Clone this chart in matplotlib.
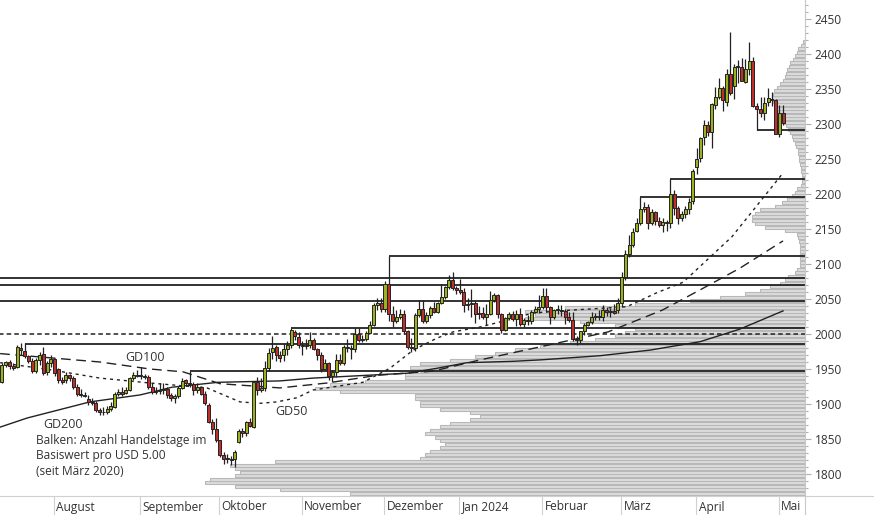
import numpy as np
import pandas as pd
import matplotlib
matplotlib.use("Agg")
import matplotlib.pyplot as plt
from matplotlib.transforms import blended_transform_factory

plt.rcParams['font.family'] = ['Open Sans', 'DejaVu Sans']

# trading days shown (holidays without quotes removed)
dates = pd.bdate_range("2023-07-12", "2024-05-02")
dates = dates.drop(pd.to_datetime(["2023-12-25", "2024-01-01", "2024-03-29"]))

opens = [1932, 1956, 1960, 1955, 1953, 1980, 1976, 1969, 1961, 1947, 1963, 1972, 1946, 1958,
         1964, 1950, 1935, 1934, 1941, 1937, 1925, 1913, 1913, 1907, 1903, 1901, 1891, 1888, 1889, 1893,
         1896, 1915, 1917, 1916, 1920, 1937, 1942,
         1940, 1940, 1938, 1925, 1917, 1919, 1920, 1922, 1913, 1909, 1911, 1923, 1934, 1930, 1929, 1920,
         1924, 1915, 1899, 1874, 1864,
         1848, 1827, 1822, 1822, 1821, 1846, 1861, 1858, 1874, 1867, 1931, 1920, 1923, 1951, 1974, 1981,
         1970, 1970, 1979, 1984, 2003, 1996,
         1984, 1983, 1985, 1992, 1978, 1970, 1950, 1958, 1940, 1946, 1963, 1959, 1981, 1980, 1978, 2000,
         1991, 1993, 2002, 2013, 2041, 2044,
         2036, 2072, 2029, 2019, 2025, 2028, 2004, 1981, 1980, 2027, 2036, 2019, 2027, 2037, 2031, 2045,
         2053, 2067, 2077, 2065,
         2063, 2060, 2041, 2043, 2045, 2028, 2030, 2025, 2029, 2049, 2055, 2028, 2006, 2023, 2029, 2022,
         2028, 2014, 2020, 2018, 2031, 2036,
         2039, 2054, 2039, 2025, 2034, 2035, 2033, 2024, 2020, 1993, 1992, 2004, 2013, 2017, 2024, 2025,
         2024, 2035, 2031, 2033, 2034,
         2044, 2082, 2114, 2127, 2147, 2159, 2179, 2182, 2158, 2174, 2162, 2156, 2160, 2158, 2200, 2180,
         2165, 2171, 2178, 2190,
         2239, 2251, 2281, 2298, 2289, 2327, 2338, 2351, 2331, 2371, 2354, 2381, 2381, 2360, 2378, 2390,
         2326, 2322, 2316, 2331, 2334, 2334,
         2286, 2316]
highs = [1959, 1962, 1963, 1958, 1984, 1987, 1987, 1970, 1966, 1966, 1975, 1982, 1961, 1970,
         1966, 1952, 1938, 1946, 1943, 1940, 1929, 1922, 1917, 1913, 1908, 1904, 1894, 1896, 1897, 1903,
         1917, 1922, 1925, 1924, 1939, 1946, 1948,
         1953, 1943, 1941, 1930, 1924, 1930, 1930, 1925, 1916, 1915, 1926, 1937, 1936, 1947, 1932, 1930,
         1926, 1918, 1902, 1879, 1880,
         1849, 1831, 1829, 1826, 1834, 1865, 1866, 1876, 1880, 1933, 1938, 1937, 1962, 1980, 1997, 1985,
         1976, 1986, 1990, 2008, 2006, 2003,
         1990, 1993, 2003, 1994, 1980, 1974, 1965, 1960, 1948, 1971, 1972, 1985, 1993, 1985, 2008, 2008,
         1998, 2004, 2018, 2044, 2052, 2051,
         2075, 2111, 2040, 2035, 2036, 2035, 2006, 1994, 2030, 2048, 2048, 2032, 2040, 2046, 2046, 2071,
         2068, 2084, 2088, 2069,
         2079, 2066, 2052, 2064, 2047, 2040, 2039, 2043, 2062, 2058, 2057, 2030, 2025, 2032, 2033, 2034,
         2037, 2023, 2027, 2034, 2040, 2055,
         2065, 2065, 2040, 2036, 2041, 2042, 2036, 2031, 2032, 1997, 2005, 2016, 2019, 2031, 2030, 2034,
         2041, 2038, 2037, 2043, 2052,
         2088, 2120, 2142, 2152, 2165, 2195, 2189, 2185, 2179, 2175, 2167, 2166, 2163, 2222, 2205, 2183,
         2176, 2183, 2194, 2236,
         2266, 2282, 2305, 2304, 2330, 2353, 2365, 2354, 2378, 2431, 2386, 2391, 2394, 2393, 2417, 2395,
         2330, 2338, 2339, 2352, 2345, 2336,
         2327, 2327]
lows = [1930, 1953, 1950, 1949, 1951, 1970, 1966, 1958, 1945, 1945, 1956, 1942, 1942, 1953,
        1940, 1930, 1928, 1930, 1933, 1922, 1912, 1910, 1910, 1899, 1898, 1889, 1884, 1885, 1886, 1890,
        1894, 1912, 1911, 1914, 1918, 1935, 1938,
        1936, 1936, 1922, 1915, 1915, 1915, 1915, 1908, 1905, 1901, 1908, 1921, 1927, 1925, 1913, 1916,
        1913, 1899, 1873, 1857, 1846,
        1824, 1815, 1816, 1813, 1810, 1845, 1853, 1855, 1867, 1866, 1913, 1917, 1919, 1947, 1965, 1961,
        1960, 1962, 1970, 1980, 1992, 1980,
        1970, 1978, 1980, 1977, 1963, 1946, 1948, 1935, 1932, 1938, 1956, 1956, 1975, 1965, 1975, 1989,
        1988, 1990, 2001, 2012, 2035, 2031,
        2031, 2018, 2010, 2016, 2022, 2000, 1978, 1974, 1976, 2025, 2016, 2016, 2023, 2030, 2030, 2043,
        2050, 2064, 2063, 2057,
        2057, 2032, 2035, 2024, 2016, 2022, 2021, 2013, 2027, 2046, 2023, 2002, 2004, 2020, 2018, 2011,
        2011, 2010, 2013, 2014, 2030, 2030,
        2036, 2031, 2014, 2021, 2029, 2026, 2014, 2017, 1990, 1984, 1987, 1998, 2011, 2014, 2020, 2020,
        2019, 2026, 2025, 2028, 2030,
        2039, 2077, 2110, 2124, 2145, 2155, 2174, 2150, 2156, 2155, 2153, 2146, 2147, 2152, 2170, 2157,
        2161, 2166, 2172, 2185,
        2228, 2245, 2270, 2283, 2266, 2321, 2335, 2319, 2325, 2342, 2335, 2358, 2363, 2358, 2370, 2324,
        2291, 2310, 2306, 2325, 2325, 2285,
        2281, 2299]
closes = [1956, 1960, 1955, 1952, 1981, 1977, 1969, 1961, 1947, 1963, 1970, 1945, 1958, 1964,
          1944, 1934, 1932, 1941, 1937, 1924, 1914, 1913, 1912, 1903, 1901, 1891, 1888, 1889, 1893, 1897,
          1914, 1917, 1915, 1920, 1937, 1942, 1940,
          1940, 1938, 1925, 1917, 1919, 1920, 1922, 1913, 1909, 1911, 1923, 1933, 1930, 1929, 1920, 1925,
          1915, 1901, 1874, 1864, 1849,
          1827, 1822, 1822, 1820, 1832, 1861, 1858, 1874, 1869, 1931, 1920, 1923, 1951, 1973, 1980, 1970,
          1966, 1979, 1984, 2006, 1997, 1984,
          1983, 1985, 1992, 1978, 1970, 1950, 1958, 1940, 1946, 1963, 1959, 1981, 1980, 1978, 2000, 1991,
          1993, 2002, 2013, 2041, 2044, 2036,
          2072, 2029, 2019, 2025, 2028, 2004, 1981, 1980, 2027, 2036, 2019, 2027, 2037, 2031, 2045, 2053,
          2067, 2077, 2065, 2063,
          2060, 2041, 2043, 2045, 2028, 2030, 2025, 2029, 2049, 2055, 2028, 2006, 2023, 2029, 2022, 2028,
          2014, 2020, 2018, 2031, 2036, 2039,
          2054, 2039, 2025, 2034, 2035, 2033, 2024, 2020, 1993, 1992, 2004, 2013, 2017, 2024, 2025, 2024,
          2035, 2031, 2033, 2030, 2044,
          2082, 2114, 2127, 2146, 2159, 2179, 2182, 2158, 2174, 2162, 2156, 2160, 2158, 2200, 2180, 2165,
          2171, 2178, 2188, 2233,
          2250, 2280, 2298, 2289, 2329, 2338, 2351, 2334, 2371, 2344, 2381, 2381, 2361, 2378, 2390, 2326,
          2322, 2316, 2330, 2337, 2335, 2286,
          2316, 2301]

# moving averages, read at a few points (trading-day index, price)
gd50_idx = [-0.5, 12.8, 26.1, 39.4, 54.6, 63.4, 68.7, 73.2, 78.6, 82.8, 96.1, 103.3, 109.5, 115.8,
            120.1, 127.3, 131.8, 141.4, 151.3, 166.4, 174.4, 181.4, 194.4, 208]
gd50_val = [1959, 1949, 1937, 1930, 1923, 1903, 1901, 1903, 1909, 1920, 1931, 1951, 1977, 1994,
            2003, 2010, 2016, 2030, 2034, 2039, 2059, 2074, 2139, 2230]
gd100_idx = [-0.5, 12.8, 26.1, 39.4, 48.2, 58.1, 74, 86.6, 99.9, 114.8, 127.3, 141.9, 161.4, 175.8,
             185.9, 196.5, 208]
gd100_val = [1972, 1966, 1960, 1950, 1946, 1929, 1923, 1930, 1941, 1947, 1963, 1980, 2003, 2034,
             2063, 2094, 2133]
gd200_idx = [-0.5, 6.7, 23.4, 36.8, 45.3, 57.5, 74, 82.8, 107.9, 115.8, 123.8, 136.1, 143.3, 159.3,
             172.6, 185.9, 196.5, 208]
gd200_val = [1867, 1880, 1903, 1913, 1924, 1931, 1933, 1937, 1944, 1951, 1959, 1961, 1963, 1969,
             1977, 1989, 2007, 2033]

# support / resistance lines: (start index, level)
level_start = [201, 178, 170, 103, -1, -1, -1, 77, 6, 50]
level_value = [2291, 2222, 2195, 2111, 2080, 2070, 2047, 2008, 1986, 1947]
dashed_level = 2000

# volume profile: trading days per USD 5.00 bin (since March 2020), bins from 1770 upward
profile_low = 1770
profile_days = [91, 105, 114, 120, 119, 114, 113, 114, 115, 106,        # 1770-1815
                77, 76, 75, 73, 72, 73, 74, 76, 75, 73,                 # 1820-1865
                71, 67, 65, 67, 73, 77, 77, 78, 78, 93,                 # 1870-1915
                98, 95, 88, 80, 80, 77, 79, 77, 71, 66,                 # 1920-1965
                62, 58, 53, 47, 42, 38, 36, 34, 38, 45,                 # 1970-2015
                56, 54, 56, 48, 34, 23, 17, 12, 9, 7,                   # 2020-2065
                5, 4, 3.4, 2, 1.6, 1, 1, 1, 1, 1,                       # 2070-2115
                1, 1, 1.2, 1.4, 1.6, 4, 8, 10, 10.5, 10.5,              # 2120-2165
                10, 9, 6, 4.5, 3.5, 2.5, 2, 1.5, 0.8, 0.6,              # 2170-2215
                0.6, 0.6, 0.7, 0.8, 1, 1.1, 1.2, 1.3, 1.4, 1.7,         # 2220-2265
                2, 2.3, 2.6, 3, 3.3, 3.8, 4.2, 4.6, 5, 5.4,             # 2270-2315
                5.8, 6.1, 6.4, 6.5, 6.4, 6.1, 5.6, 5, 4.4, 4,           # 2320-2365
                3.7, 3.5, 3.2, 3, 2.4, 2, 1.6, 1.3, 0.8, 0.4]           # 2370-2415

months = ["August", "September", "Oktober", "November", "Dezember", "Jan 2024", "Februar", "März",
          "April", "Mai"]

# ---------------------------------------------------------------
W, H = 874, 515
fig = plt.figure(figsize=(W / 100, H / 100), dpi=100)
ax = fig.add_axes([0, 19 / H, 805 / W, 496 / H])
x_right = 213.85
ax.set_xlim(-0.53, x_right)
ax.set_ylim(1768.6, 2477.1)

px_per_idx = 3.755
ink = "#222222"
text_col = "#333333"

# profile bars
bins = profile_low + 5 * np.arange(len(profile_days))
lengths = np.array(profile_days) * 5 / px_per_idx
ax.barh(bins + 2.5, lengths, left=x_right - lengths, height=4.6, color="#dddddd",
        edgecolor="#b8b8b8", linewidth=0.8, zorder=1)

# horizontal levels
for s, v in zip(level_start, level_value):
    ax.plot([s, x_right], [v, v], color=ink, lw=1.3, zorder=2, solid_capstyle="butt")
ax.plot([-1, x_right], [dashed_level] * 2, color=ink, lw=1.1, ls=(0, (3, 2)), zorder=2)

# moving averages
ax.plot(gd50_idx, gd50_val, color=ink, lw=1.0, ls=(0, (2.2, 2.8)), zorder=3)
ax.plot(gd100_idx, gd100_val, color=ink, lw=1.0, ls=(0, (7, 4)), zorder=3)
ax.plot(gd200_idx, gd200_val, color=ink, lw=1.0, zorder=3)

# candles
idx = np.arange(len(closes))
o = np.array(opens); c = np.array(closes)
up = c >= o
ax.vlines(idx, lows, highs, color=ink, lw=0.9, zorder=4)
body_lo = np.minimum(o, c)
body_h = np.maximum(np.abs(c - o), 1.2)
ax.bar(idx[up], body_h[up], bottom=body_lo[up], width=0.8, color="#9bb21c",
       edgecolor=ink, linewidth=0.7, zorder=5)
ax.bar(idx[~up], body_h[~up], bottom=body_lo[~up], width=0.8, color="#c0302a",
       edgecolor=ink, linewidth=0.7, zorder=5)

# labels
ax.text(32.8, 1967, "GD100", fontsize=9, color=text_col, va="center", zorder=6)
ax.text(10.9, 1871, "GD200", fontsize=9, color=text_col, va="center", zorder=6)
ax.text(72.7, 1890, "GD50", fontsize=9, color=text_col, va="center", zorder=6)
ax.text(9.05, 1826, "Balken: Anzahl Handelstage im\nBasiswert pro USD 5.00\n(seit März 2020)",
        fontsize=8.6, color=text_col, va="center", linespacing=1.25, zorder=6)

# axes styling
for sp in ["left", "top", "bottom"]:
    ax.spines[sp].set_visible(False)
ax.spines["right"].set_color("#c8c8c8")
ax.yaxis.tick_right()
ax.set_yticks(np.arange(1800, 2451, 50))
ax.set_yticks(np.arange(1780, 2471, 10), minor=True)
ax.tick_params(axis="y", which="major", length=4.5, width=0.8, color="#b0b0b0",
               labelsize=8.6, labelcolor=text_col, pad=2.5)
ax.tick_params(axis="y", which="minor", length=2.5, width=0.8, color="#b0b0b0")
ax.set_xticks([])

# bottom rule and month separators
fig.add_artist(plt.Line2D([0, 1], [19 / H, 19 / H], color="#d0d0d0", lw=0.8))
fig.add_artist(plt.Line2D([805 / W, 805 / W], [0, 19 / H], color="#c8c8c8", lw=0.8))
trans = blended_transform_factory(ax.transData, fig.transFigure)
month_start = [np.where((dates.month == m.month) & (dates.year == m.year))[0][0]
               for m in pd.date_range("2023-08-01", "2024-05-01", freq="MS")]
for name, i in zip(months, month_start):
    xs = i - 0.2
    fig.add_artist(plt.Line2D([xs, xs], [0, 19 / H], color="#d0d0d0", lw=0.8, transform=trans))
    fig.text(xs + 0.7, 8 / H, name, transform=trans, fontsize=8.6, color=text_col, va="center")

fig.savefig("out.png", dpi=100)
